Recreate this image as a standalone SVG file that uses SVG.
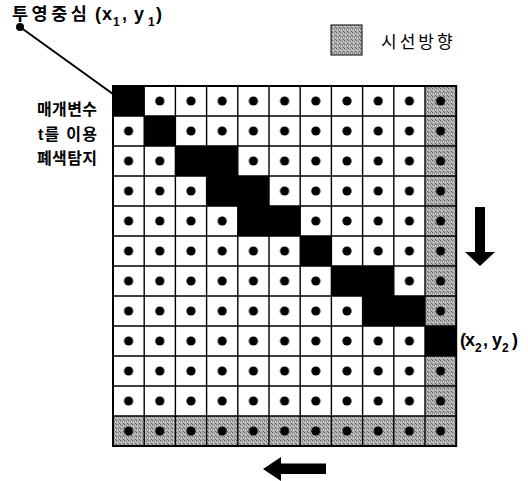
<svg xmlns="http://www.w3.org/2000/svg" width="528" height="481" viewBox="0 0 528 481">
<style>
.ko{font-family:"Liberation Sans","Noto Sans CJK KR",sans-serif;fill:#000}
.b{font-weight:bold}
.grid{fill:none;stroke:#000;stroke-width:1.4}
.border{fill:none;stroke:#000;stroke-width:2}
.blk{fill:#000}
.gry{fill:url(#stip)}
.conn{stroke:#000;stroke-width:2;fill:none}
</style>
<defs>
<pattern id="stip" patternUnits="userSpaceOnUse" width="4" height="4">
<rect width="4" height="4" fill="#acacac"/>
<rect x="0" y="0" width="1" height="1" fill="#606060"/>
<rect x="2" y="1" width="1" height="1" fill="#777"/>
<rect x="1" y="2" width="1" height="1" fill="#e0e0e0"/>
<rect x="3" y="3" width="1" height="1" fill="#6a6a6a"/>
<rect x="3" y="1" width="1" height="1" fill="#d8d8d8"/>
</pattern>
<pattern id="dots" patternUnits="userSpaceOnUse" x="113" y="86" width="31.2" height="30">
<circle cx="15.6" cy="15" r="4.6" fill="#000"/>
</pattern>
</defs>
<rect width="528" height="481" fill="#fff"/>

<g id="grid">
<rect x="113" y="86" width="343.2" height="360" fill="#fff"/>
<rect class="gry" x="425" y="86" width="31.2" height="240"/>
<rect class="gry" x="425" y="356" width="31.2" height="90"/>
<rect class="gry" x="113" y="416" width="312" height="30"/>
<rect x="113" y="86" width="343.2" height="360" fill="url(#dots)"/>
<g id="path-cells">
<rect class="blk" x="113" y="86" width="31.2" height="30"/>
<rect class="blk" x="144.2" y="116" width="31.2" height="30"/>
<rect class="blk" x="175.4" y="146" width="62.4" height="30"/>
<rect class="blk" x="206.6" y="176" width="62.4" height="30"/>
<rect class="blk" x="237.8" y="206" width="62.4" height="30"/>
<rect class="blk" x="300.2" y="236" width="31.2" height="30"/>
<rect class="blk" x="331.4" y="266" width="62.4" height="30"/>
<rect class="blk" x="362.6" y="296" width="62.4" height="30"/>
<rect class="blk" x="425" y="326" width="31.2" height="30"/>
</g>
<path class="grid" d="M144.2 86V446M175.4 86V446M206.6 86V446M237.8 86V446M269 86V446M300.2 86V446M331.4 86V446M362.6 86V446M393.8 86V446M425 86V446M113 116H456.2M113 146H456.2M113 176H456.2M113 206H456.2M113 236H456.2M113 266H456.2M113 296H456.2M113 326H456.2M113 356H456.2M113 386H456.2M113 416H456.2"/>
<rect class="border" x="113" y="86" width="343.2" height="360"/>
</g>

<g id="connectors">
<line class="conn" x1="20" y1="27" x2="113" y2="94"/>
<circle cx="20" cy="27" r="4" fill="#000"/>
</g>

<g id="label-start">
<text class="ko b" x="12" y="19.5" font-size="17.5" letter-spacing="3.5">투영중심</text>
<text class="ko b" font-size="18" y="20"><tspan x="95">(</tspan><tspan x="102">x</tspan><tspan x="113" y="26" font-size="12">1</tspan><tspan x="122" y="20">,</tspan><tspan x="134">y</tspan><tspan x="148" y="26" font-size="12">1</tspan><tspan x="156" y="20">)</tspan></text>
</g>

<g id="legend">
<rect class="gry" x="331" y="25" width="31" height="30" stroke="#000" stroke-width="1"/>
<text class="ko" x="381" y="47.5" font-size="17" letter-spacing="3">시선방향</text>
</g>

<g id="label-param">
<text class="ko b" x="37" y="115" font-size="16" textLength="60" lengthAdjust="spacing">매개변수</text>
<text class="ko b" x="38" y="139.5" font-size="16" textLength="59" lengthAdjust="spacing">t를 이용</text>
<text class="ko b" x="37" y="163.5" font-size="16" textLength="60" lengthAdjust="spacing">폐색탐지</text>
</g>

<g id="label-end">
<text class="ko b" font-size="18" y="346"><tspan x="460">(</tspan><tspan x="465">x</tspan><tspan x="475" y="352" font-size="12">2</tspan><tspan x="483" y="346">,</tspan><tspan x="492">y</tspan><tspan x="502" y="352" font-size="12">2</tspan><tspan x="512" y="346">)</tspan></text>
</g>

<g id="arrow-down">
<polygon fill="#000" points="475,207 485,207 485,252 495,252 480,266 465,252 475,252"/>
</g>
<g id="arrow-left">
<polygon fill="#000" points="263,469 281,457 281,463.5 326,463.5 326,474 281,474 281,481"/>
</g>
</svg>
